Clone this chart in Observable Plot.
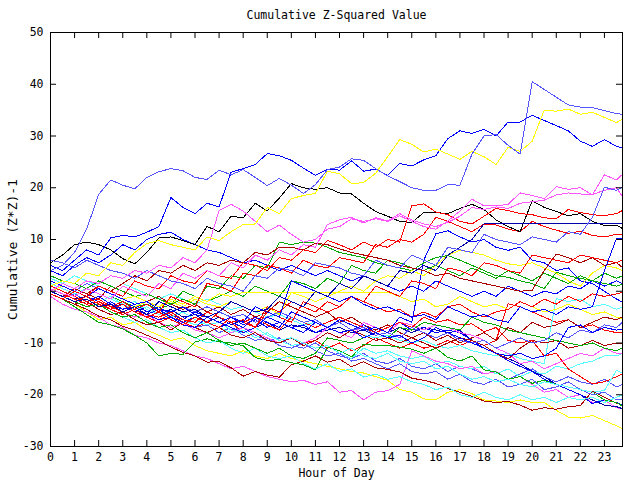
<!DOCTYPE html>
<html><head><meta charset="utf-8">
<script src="https://cdn.jsdelivr.net/npm/d3@7"></script>
<script src="https://cdn.jsdelivr.net/npm/@observablehq/plot@0.6"></script>
<style>
body{margin:0;background:#fff;}
#chart svg{display:block;}
#chart g[aria-label="line"] path{shape-rendering:crispEdges;}
</style></head><body><div id="chart"></div>
<script>
const hours = [0,0.5,1,1.5,2,2.5,3,3.5,4,4.5,5,5.5,6,6.5,7,7.5,8,8.5,9,9.5,10,10.5,11,11.5,12,12.5,13,13.5,14,14.5,15,15.5,16,16.5,17,17.5,18,18.5,19,19.5,20,20.5,21,21.5,22,22.5,23,23.5,23.75];
const xTicks = [0,1,2,3,4,5,6,7,8,9,10,11,12,13,14,15,16,17,18,19,20,21,22,23];
const yTicks = [-30,-20,-10,0,10,20,30,40,50];
const title = "Cumulative Z-Squared Value";
const xLabel = "Hour of Day";
const yLabel = "Cumulative (Z*Z)-1";

const s01 = [4,5,7.5,12,18.7,21.5,20.5,19.8,22,23.1,23.7,23.3,22,21.6,23.4,22.5,23.5,22,20.4,21.8,20.5,18.9,20.6,23.5,24,25.6,25.3,23.7,22.3,21.2,20,19.5,19.5,20.6,20.5,26.5,30,30.3,28.2,26.5,40.5,39,37.5,36,35.6,35.5,34.9,34.3,34.2];
const s02 = [1,2,1.5,3.5,3,5.5,5,7.5,9.2,9.8,9,8.5,8,10.5,9.8,11.5,12.9,13,16.2,15,17.9,18.5,18.9,23.2,22.7,20.8,21,22.8,26,29.3,28.4,26.9,27.5,26.5,25.5,27,26,24.5,27.8,27,29,35,34.8,35.2,34.2,34.6,33.6,32.6,33.3];
const s03 = [5,4,6,8,7,10.3,10.8,10.5,11.4,12.5,18.1,16.2,15,17,16.3,23,23.7,24.5,26.6,26.2,25.3,23.8,22.4,23.6,23.4,25.2,23.2,23.6,22.4,24.7,24.2,25.4,26.2,29.5,31,30.5,31.3,30,32.7,32.7,34,33,32,31,29,28,29.3,28,27.7];
const s04 = [0,1.5,0.5,2,1.5,3,2.5,4,3.5,5,4.5,6.5,5.5,8,15.6,16.8,15.5,13.5,11.5,12.8,11,9.5,10,12,12.5,14,13.5,14,13.5,14.6,13.5,12.5,12,13.6,15.5,17.8,16.5,16.5,16.8,19,18.5,17.9,20.2,19.7,20,18.6,22.5,21.5,22.6];
const s05 = [6,5.5,4.5,6,5,4,3.5,2.5,4,3,2,1.5,0.5,2.5,1.5,1,0,3,2.5,4.5,4,3,5.5,5,4.5,3.5,3,6,5,4.5,7,6,5,8.5,8,7.5,11,10,9.5,9,10.5,10,9.5,11.5,11,14.3,20.1,19.5,20.1];
const s06 = [0.5,-0.5,-1,0.5,-0.5,-1.5,1,0,-1,1.5,0.5,3.5,2.5,4,3,5.5,4.5,7,6,8,7,9,8.5,12.9,13.8,14.3,13.2,14.2,13.6,15,13.8,13,12.5,13.3,14.5,16.2,15.8,16.3,16,17,17.3,17.6,18.6,19,18.8,18.7,19.5,20,18.3];
const s07 = [-0.5,-1.5,0,-1,1,0,-1,2,1,0.5,3,2,1.5,4,3,2.5,5.5,5,4,6.5,6,8,7.5,9.8,9,8,9.5,8.5,10,9.5,16.5,16.9,15.3,14.8,13.5,13,14.5,16,15.6,15,14.8,14.2,14,15.8,15.2,14.8,14.6,15,15.6];
const s08 = [0,-1,-2,-1.5,-3,-2.5,-4,-3,-4.5,-2,-3,-4,-3.5,-5,-4,-2,-3,-4,-3.5,-1,-2,-3,0,-1,1.5,0.5,3,2,1,4,3.5,5,4,7,8.5,10,13,13,13,13,13,13,13,13,13,13,13,13,13];
const s09 = [5.5,7,9,9.5,9,8,6.3,5.3,7.5,10.3,10.5,9.8,9,12.5,11.5,14.5,14.2,17,15.5,18,20.8,20,19.7,20,19,18.8,17,15.4,14.5,13.5,13.3,15.2,15.2,15,16,16.8,15.8,13.8,12.5,11.5,17.5,16.2,15.4,14.6,15,13.5,12.7,12.8,12.1];
const s10 = [1,0,-1,-2,-1.5,-3,-2,-3.5,-2.5,-4,-1,-2,-3,1.5,1,0,3.5,3,5,4.5,3.5,6,5,4.5,6.5,6,5.5,9,8.5,10,9.5,11,14.3,13.5,12.5,11.5,13,12.8,12,11.5,13.5,12.5,11.8,11.2,11.6,10.8,10.5,11,11];
const s11 = [2,1,0,-1,0.5,-0.5,-1.5,-2.5,-2,-3.5,-4,-3,-4.5,-5,-6,-5,-6,-3,-4,-5,2,1,0,-1,-2,-1,-2.5,-3.5,-3,-4,-5,-4.5,-5.5,-3,-4,-5,-4.5,-5.5,-6,-3,-4,-3.5,-4.5,-3,-3.5,-3,4,10.2,10.1];
const s12 = [0,-1,-2,-1,-2.5,-3.5,-2.5,-4,-5,-4,-5.5,-6.5,-5,-6,-7,-5,-6,-7,-3,-4,-2,-3,-4,-2,-3,-1,-2,1,0,-1,2,1.5,0.5,4.5,4,3,5.5,5,4,3.5,7,6.5,6,5.5,7,6.5,6,5.5,6.1];
const s13 = [0,-1,0.5,-0.5,1,0,1.5,3,2,4,3.5,5,4,5.5,5,6,5.5,7.5,7,8.5,8.5,8,9.3,9,8.2,7.5,7,6.5,6,5,4.5,4,3,3.5,2.5,2,1.5,1,0.5,0,0.2,4,7.2,6.5,5.5,6.5,5,5.5,4.6];
const s14 = [0,1,0,-1,0.5,-0.5,-1.5,-1,-2,-3,-2,-3,-1.5,-2.5,-3,-2,-3,-4,-3,-4.5,-0.2,-1,-2,-1,0,1,0,2,3,2.5,4,3,5,7,7.9,7.5,7,6,5.3,5,5.5,4.5,3.5,2,1,3.5,5,4.5,4];
const s15 = [3,2,1.5,0.5,2,1,0,-1,-0.5,-1.5,-2.5,-1.5,-2.5,1,0.5,3,2.5,5,4.5,9.5,9,9.5,9.3,8.5,7.5,7,6.5,5.5,5,4.5,4,5.5,6.5,6.9,6,5,4,3,2.7,2,1.5,0.5,3.7,3,2.5,2,1.5,1,1.4];
const s16 = [0.5,-0.5,-1.5,-2.5,-2,-3,-4,-3,-4.5,-5,-4,-5.5,-6,-4,-5,-6,-5.5,-7,-4,-5,-6,-2,-3,-4,-3,-1,-2,-3,-4,-3.5,-5,-4,-5,-3,-2.5,-4,-5,-4,-3.5,-2,-3,-1.5,-2.5,-1,-2,-0.5,-1,-0.5,-0.2];
const s17 = [0,-1,-2,-1,-2,-3,-2,-3.5,-4.5,-3.5,-5,-6,-5,-6,-7,-6,-7,-5,-6,-7,-4,-5,-6,-7,-5.5,-6.5,-7.5,-7,-8,-5,-6,6,11.1,11.7,10.5,9.5,10,8.5,7.9,8.5,6,5.5,4,4.5,2,1.5,0,-1.5,-2.1];
const s18 = [0,-1,-2,-1.5,-3,-2.5,-4,-3,-2,-3,-1.5,-2.5,-1,-2,-0.5,-1,-0.2,-0.2,-0.2,-0.2,-0.2,-0.2,-0.2,-0.2,-0.2,-0.2,-0.2,-0.2,-0.2,-1,-2,-1.5,-3,-2.5,-1,-2,-3,-2.5,-3.5,-2,-3,-4,-3.5,-2.5,-3.5,-4.5,-4,-5,-5.3];
const s19 = [1,0,-1,-2,-1,-2.5,-3.5,-3,-4.5,-5.5,-5,-6.5,-7,-5,-6,-7,-8,-7,-5,-6,-7,-8,-6,-7,-8,-7.5,-9,-8,-9,-8.5,-10,-9,-7,-8,-9,-10,-11,-12,-12.5,-12,-13,-12.5,-11,-7,-6.5,-8,-7,-7.5,-7.3];
const s20 = [2,1,0,1.5,0.5,-0.5,-1.5,-1,-2,-3,-2,-3,-4,-3,-4,-5,-4.5,-6,-5,-4,-5,-6,-5.5,-7,-6,-7.5,-7,-8.5,-8,-9,-7,-8,-9,-8,-9.5,-10,-9.5,-11,-10,-9,-10,-9.5,-8,-9,-7.5,-8,-6.5,-7,-6];
const s21 = [0,-1,-2,-3,-2.5,-4,-5,-4.5,-6,-7,-6.5,-8,-9,-8,-9.5,-10.5,-10,-11,-12,-11,-12.5,-13,-12,-9,-9.5,-10,-9,-8,-9,-7,-7.5,-6,-6.5,-7,-7.5,-5,-6,-6.5,-7.5,-8,-8.5,-9,-9.5,-10,-10.5,-10,-11,-11.5,-10.9];
const s22 = [2,1,0,-1,-2,-1,-2.5,-3.5,-3,-4.5,-5,-4,-5.5,-6.5,-6,-7.5,-8,-7,-8.5,-9.5,-9,-10,-11,-10.5,-12,-11,-12.5,-13,-12,-13.5,-14,-13.5,-15,-14.5,-16,-17,-16.5,-17.5,-17,-18,-18.5,-17.5,-18,-18.5,-19,-19.5,-19.2,-15.3,-15.8];
const s23 = [0,-1,-2,-1,-2,-3,-4,-3,-4.5,-5.5,-4.5,-6,-7,-6,-4,-5,-6,-5,-6.5,-7.5,-5,-6,-7,-6,-5,-6,-7,-8,-7,-6,-7,-5,-6,-5.5,-6.5,-6.3,-7.8,-7,-9.5,-10,-9.5,-12.5,-12,-15,-16.5,-17.9,-17.5,-16.5,-16];
const s24 = [-0.5,-1.5,-2.5,-2,-3.5,-4.5,-4,-5.5,-6.5,-6,-7.5,-6,-7,-8,-7,-8.5,-9,-8,-9.5,-10,-9,-10.5,-9.5,-8,-9,-7.5,-8.5,-9.5,-9,-10,-9,-10,-11,-10,-9,-9.5,-10.5,-12,-13.1,-11,-9.5,-10,-9.5,-11,-10.5,-9.5,-10.5,-10,-10];
const s25 = [0.5,-0.5,-1.5,-2.5,-2,-3,-4,-5,-4.5,-6,-7,-6,-7.5,-8,-9,-8,-7,-8,-9,-10,-9,-10,-9,-7,-8,-9,-6,-7,-8,-6,-6.5,-7.5,-6.5,-7,-8,-8.5,-9.5,-11,-12,-14,-13.5,-15,-14,-13,-12,-12.5,-11,-12,-12.1];
const s26 = [0,-1,-2,-3,-2.5,-4,-5,-6,-5.5,-7,-8,-7.5,-9,-10,-9.5,-11,-12,-11,-12.5,-13,-12.5,-14,-15,-14,-15.5,-15,-16.6,-16,-17,-16.5,-17.5,-18,-19,-18.5,-20,-20.5,-19.5,-20.5,-21,-20,-21,-20.5,-21.5,-20.5,-21,-20.5,-21.5,-20.5,-20];
const s27 = [1,0,-1,-2,-1,-2.5,-3.5,-3,-4.5,-5.5,-5,-6,-7,-6.5,-8,-7,-8.5,-9.5,-9,-10.5,-11,-10,-11.5,-12.5,-12,-13.5,-13,-14,-15,-14,-15.5,-16,-15.5,-17,-16,-17.5,-18,-17,-18.5,-18,-17,-19,-18.5,-17.5,-19,-20,-19.5,-21,-21];
const s28 = [-0.5,-1.5,-3,-4.5,-6,-6.5,-7.3,-8.5,-10,-12.5,-12,-12.2,-9.8,-9.2,-9.8,-10,-10.5,-12.8,-13.4,-13.2,-13.8,-14.2,-15.2,-10.8,-11.5,-12.7,-10.2,-10.5,-10.5,-10.8,-11.2,-12,-11,-12.8,-13.5,-12.5,-15.2,-15.6,-17,-16.5,-17.8,-17.2,-18,-18.5,-19,-19.5,-21,-21.5,-22.2];
const s29 = [-0.5,-1.5,-2.5,-3.5,-4.8,-5.5,-6.8,-7.5,-8.5,-9.5,-10.8,-11.8,-12.5,-13.7,-13.6,-14.8,-16.4,-15.5,-16.2,-16.6,-14.2,-13.5,-12.5,-13.7,-13.1,-14.6,-13.6,-14.8,-15.1,-15.6,-16.8,-17.2,-17.8,-18.8,-19.5,-20.3,-21.2,-21.5,-21.3,-22,-23,-22.5,-22.8,-22.3,-22.1,-19.3,-20.5,-21.6,-22.1];
const s30 = [0,-1,-2,-1.5,-3,-2,-3.5,-2.5,-4,-3,-4.5,-5.5,-4,-5,-6,-5,-6.5,-5.5,-7,-6,-7,-6.5,-8,-7,-6,-7.5,-6.5,-8,-7,-6,-7.5,-7,-8,-7.5,-8,-9.5,-11,-12,-13.4,-14.5,-15.5,-17,-18,-19,-20,-21.7,-21,-21.5,-22];
const s31 = [0.5,-0.5,-1.5,-1,-2,-3,-2.5,-4,-3,-4.5,-3.5,-5,-4.5,-6,-5,-6.5,-5.5,-7,-6,-7.5,-6.5,-7,-8,-7.5,-7,-8,-7.5,-8.5,-8,-7,-8,-7,-7.5,-8,-7.6,-9.5,-10.5,-12,-13,-14,-15.5,-16.5,-18,-19,-20,-21,-22,-22.3,-22.7];
const s32 = [-1,-2.5,-3.5,-4,-5,-6.5,-7,-8.5,-9,-10,-10.5,-11.5,-12.5,-13,-14,-15,-14.5,-15.5,-16.5,-17,-17.5,-17.2,-18,-17.5,-19.5,-19.2,-21,-19.5,-19.2,-18,-11.5,-12.5,-13.5,-14,-15,-14.5,-16,-15.5,-17,-16.5,-18,-19.5,-19,-20.5,-20,-21.5,-21,-22.5,-22.8];
const s33 = [-0.5,-1.5,-2.5,-4,-5.5,-5,-6.5,-6,-7.5,-8.5,-9.5,-9,-10.5,-11.5,-12,-12.5,-11.5,-12.5,-13,-12,-13,-13.5,-14,-14.5,-15,-15.5,-15.8,-16.5,-17.2,-19,-19.5,-20.8,-21,-19.5,-19,-19.8,-21,-21.2,-21.5,-21,-21.5,-21.5,-23,-24.3,-24.5,-24,-25,-26,-26.6];
const s34 = [2.5,1.5,3,2,1,0,1.5,0.5,-0.5,-1.5,-0.5,-1.5,-2.5,-1.5,-2.5,-3.5,-3,-4,-5,-4.5,-5.5,-6.5,-6,-7,-8,-7.5,-8.5,-9,-8.5,-9.5,-10,-9.5,-10.5,-11,-10.5,-11.5,-12,-12.5,-12,-13,-13.5,-14,-1.4,-2,-1.5,-3,-2.5,-3.5,-3];
const s35 = [0,1,0,-1,-2,-1,-2,-3,-2.5,-3.5,-2.5,0,-1,-2,-1,0,-1,1,0,-1,2,1.5,0.5,2.5,1.5,5,4,3.5,6,5.5,4.5,4,5,4,3,4.5,3.5,2.5,4,3,2,3.5,2.5,1.5,3,2,3.5,2.5,3];
const s36 = [0,-1,0.5,-0.5,-1.5,1,0,-1,-2,-1,-2.5,-3.5,-2.5,-4,-3,-4.5,-3.5,-5,-4,-2,-3,-4,-5,-4,-6,-5,-6.5,-7.5,-6.5,-8,-9,-8,-9.5,-8.5,-10,-9,-8,-9.5,-7,-8,-6,-7,-6.5,-5.5,-7,-6,-5,-5.5,-5];
const s37 = [1.5,0.5,-0.5,0.5,-0.5,-1.5,-2.5,-2,-3.5,-4.5,-4,-5.5,-6.5,-6,-7,-8,-7.5,-9,-8,-9.5,-10.5,-10,-11.5,-12.5,-12,-13,-11,-12,-11.5,-12.5,-13,-12.5,-14,-13.5,-14.5,-15,-14.5,-16,-15,-16.5,-15.5,-16,-14.5,-15,-14,-13.5,-12.5,-12.5,-12];
const s38 = [0,-1,-2,-3,-2,-3.5,-4.5,-3.5,-5,-6,-5,-6.5,-5,-6,-7,-6,-8,-7,-8.5,-9.5,-9,-10,-9.5,-11,-10,-11.5,-10.5,-9,-10,-11,-10,-11,-10.5,-9.5,-10.5,-9.5,-10.5,-9.5,-2.4,-3,-4,-5,-6,-5.5,-7,-6.5,-7.5,-8,-8];
const s39 = [0,-1,-0.5,-2,-1.5,-3,-2.5,-4,-3,-4.5,-5,-4,-5.5,-6.5,-6,-7.5,-7,-8.5,-9.5,-9,-10.5,-11,-10,-11.5,-12.5,-13,-12,-13.5,-14,-13,-14.5,-15,-14,-15.5,-14.5,-15,-16,-15.5,-17,-16,-15,-16.5,-17.5,-16.5,-17.5,-18,-17,-18.5,-18];
const s40 = [4,3,5,6.5,5.5,7,9,8,10,11,11.4,10,9,8,7.5,6.5,5.5,6,5,4,5,4,3,4,3,2,3,2,1,0,1,0,2,1,0,-1,0,-1,1,0,-1,0,-0.5,1,0.5,2,1,2,1.5];

const seriesList = [s40,s39,s38,s37,s36,s35,s34,s33,s32,s31,s30,s29,s28,s27,s26,s25,s24,s23,s22,s21,s20,s19,s18,s17,s16,s15,s14,s13,s12,s11,s10,s09,s08,s07,s06,s05,s04,s03,s02,s01];

// styles (kept apart from the data)
const BLUE="#0000ff", LBLUE="#5555ff", RED="#ff0000", DRED="#aa0000", GREEN="#00aa00", BLACK="#000000", YELLOW="#ffff00", MAGENTA="#ff55ff", CYAN="#55ffff", NAVY="#0000aa";
const seriesColors = [BLUE,LBLUE,RED,CYAN,DRED,GREEN,CYAN,YELLOW,MAGENTA,NAVY,BLUE,DRED,GREEN,LBLUE,CYAN,MAGENTA,DRED,RED,CYAN,GREEN,LBLUE,BLUE,YELLOW,BLUE,RED,GREEN,YELLOW,DRED,RED,BLUE,RED,BLACK,NAVY,RED,MAGENTA,LBLUE,MAGENTA,BLUE,YELLOW,LBLUE];

const rows = [];
seriesList.forEach((vals, k) => vals.forEach((v, i) => {
  if (hours[i] !== undefined) rows.push({k, h: hours[i], v, c: seriesColors[k]});
}));

const font = "DejaVu Sans Mono";
const chart = Plot.plot({
  width: 640, height: 480,
  marginLeft: 50, marginRight: 18, marginTop: 32, marginBottom: 34,
  style: {fontFamily: font, fontSize: "11.5px", background: "#fff", color: "#000", overflow: "visible"},
  x: {domain: [0, 23.75]},
  y: {domain: [-30, 50]},
  color: {type: "identity"},
  marks: [
    Plot.line(rows, {x: "h", y: "v", z: "k", stroke: "c", strokeWidth: 1}),
    Plot.frame({stroke: "#000"}),
    Plot.tickX(xTicks, {x: d => d, insetTop: 408, stroke: "#000"}),
    Plot.tickX(xTicks, {x: d => d, insetBottom: 408, stroke: "#000"}),
    Plot.tickY(yTicks, {y: d => d, insetRight: 566, stroke: "#000"}),
    Plot.tickY(yTicks, {y: d => d, insetLeft: 566, stroke: "#000"}),
    Plot.axisX({ticks: xTicks, tickSize: 0, tickPadding: 6, label: null, tickFormat: d => String(d)}),
    Plot.axisY({ticks: yTicks, tickSize: 0, tickPadding: 7, label: null, tickFormat: d => String(d)}),
    Plot.text([title], {text: d => d, frameAnchor: "top", lineAnchor: "middle", dy: -17, fontSize: 11.5, fontFamily: font}),
    Plot.text([xLabel], {text: d => d, frameAnchor: "bottom", lineAnchor: "middle", dy: 27, fontSize: 11.5, fontFamily: font}),
    Plot.text([yLabel], {text: d => d, frameAnchor: "left", textAnchor: "middle", lineAnchor: "middle", dx: -38, dy: 10, rotate: -90, fontSize: 13, fontFamily: font})
  ]
});
document.getElementById("chart").appendChild(chart);
</script></body></html>
